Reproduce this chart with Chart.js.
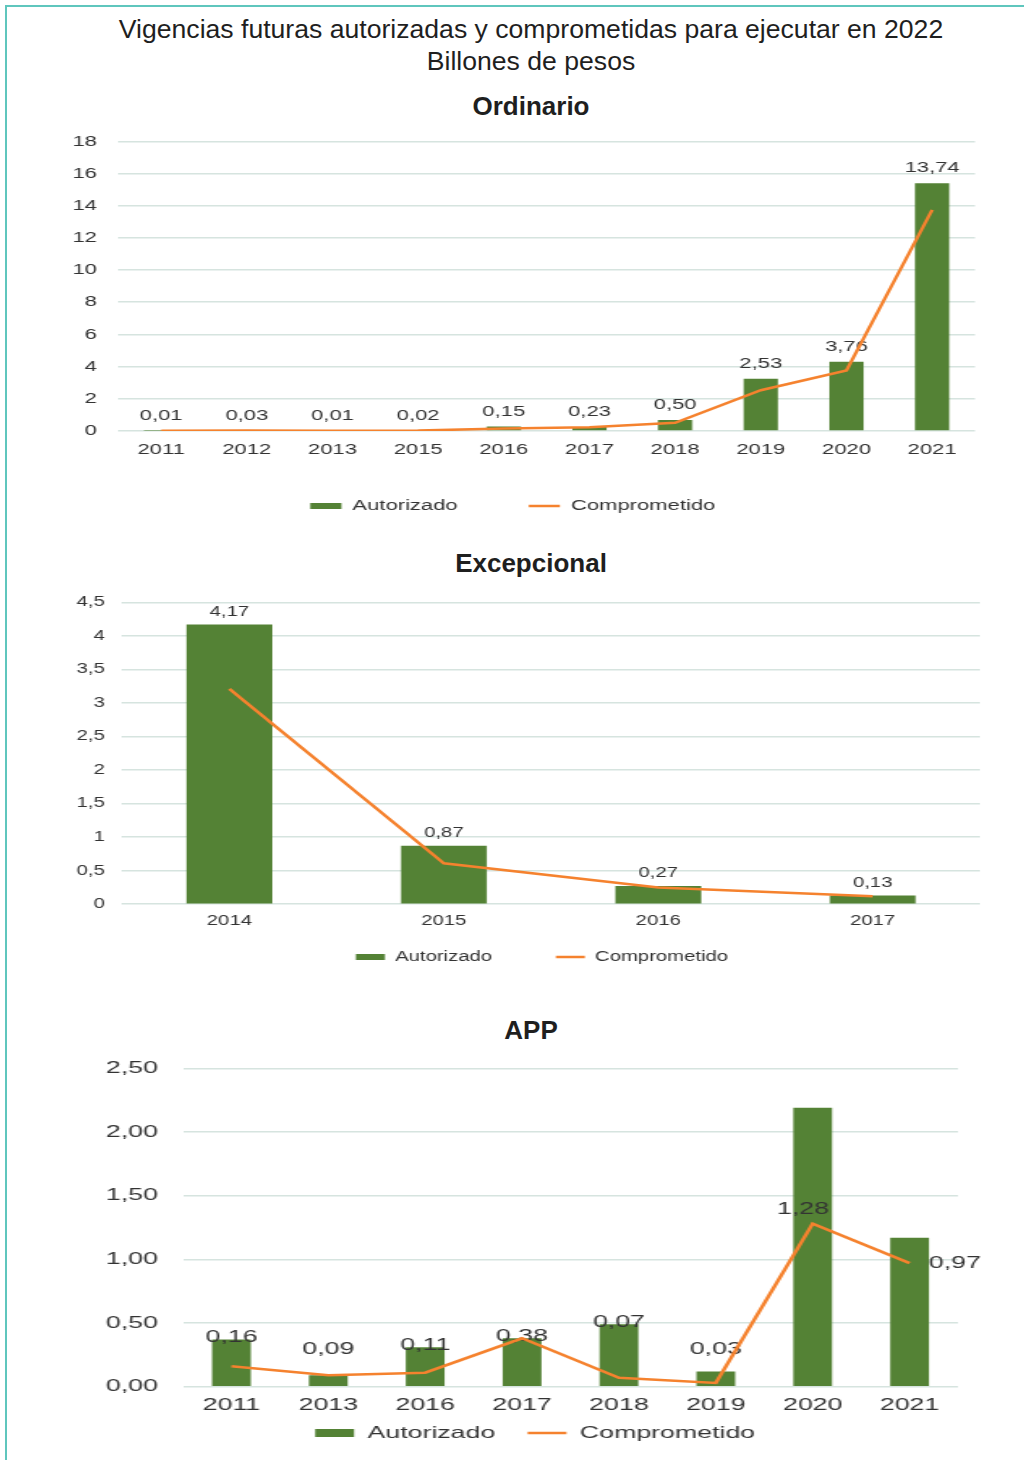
<!DOCTYPE html>
<html lang="es">
<head>
<meta charset="utf-8">
<title>Vigencias futuras autorizadas y comprometidas</title>
<script src="https://cdn.jsdelivr.net/npm/chart.js@4.4.1/dist/chart.umd.min.js"></script>
<style>
  html, body { margin: 0; padding: 0; width: 1024px; height: 1460px; overflow: hidden; background: #fff; }
  body { position: relative; font-family: "Liberation Sans", Arial, sans-serif; color: #1f1f1f; }
  #marco { position: absolute; left: 5px; top: 5px; width: 1040px; height: 1480px;
           border-left: 2px solid #5fc6bd; border-top: 2px solid #5fc6bd; }
  .titulo { position: absolute; left: 0; width: 1062px; text-align: center; }
  #principal { top: 13px; font-size: 26.6px; line-height: 32px; }
  .sub { font-size: 26px; line-height: 30px; font-weight: bold; }
  .caja { position: absolute; left: 20px; transform-origin: 0 0; }
</style>
</head>
<body>
<div id="marco"></div>
<div class="titulo" id="principal">Vigencias futuras autorizadas y comprometidas para ejecutar en 2022<br>Billones de pesos</div>
<div class="titulo sub" style="top:91px">Ordinario</div>
<div class="titulo sub" style="top:548px">Excepcional</div>
<div class="titulo sub" style="top:1015px">APP</div>

<div class="caja" style="top:117px; width:690px; height:428px; transform:scaleX(1.42)"><canvas id="graficoOrdinario"></canvas></div>
<div class="caja" style="top:582px; width:690px; height:425px; transform:scaleX(1.45)"><canvas id="graficoExcepcional"></canvas></div>
<div class="caja" style="top:1043px; width:600px; height:428px; transform:scaleX(1.62)"><canvas id="graficoApp"></canvas></div>

<script>
// Ordinario
const aniosOrdinario = ["2011", "2012", "2013", "2015", "2016", "2017", "2018", "2019", "2020", "2021"];
const autorizadoOrdinario = [0.01, 0.03, 0.01, 0.02, 0.27, 0.25, 0.68, 3.24, 4.3, 15.4];
const comprometidoOrdinario = [0.01, 0.03, 0.01, 0.02, 0.15, 0.23, 0.5, 2.53, 3.76, 13.74];

// Excepcional
const aniosExcepcional = ["2014", "2015", "2016", "2017"];
const autorizadoExcepcional = [4.17, 0.87, 0.27, 0.13];
const comprometidoExcepcional = [3.21, 0.61, 0.25, 0.12];

// APP
const aniosApp = ["2011", "2013", "2016", "2017", "2018", "2019", "2020", "2021"];
const autorizadoApp = [0.37, 0.09, 0.31, 0.38, 0.49, 0.12, 2.19, 1.17];
const comprometidoApp = [0.16, 0.09, 0.11, 0.38, 0.07, 0.03, 1.28, 0.97];
const posEtiquetasApp = ["barra", "barra", "barra", "barra", "barra", "barra", "linea", "derecha"];

const VERDE = "#548235";
const NARANJA = "#f5822e";
const GRILLA = "#d6e4df";
const TEXTO = "#333333";

Chart.defaults.font.family = "'Liberation Sans', Arial, sans-serif";
Chart.defaults.color = TEXTO;

const coma = (v, dec) => v.toFixed(dec).replace(".", ",");

// etiquetas de valor, se dibujan después de las barras y antes de la línea
function crearEtiquetas(textos, tam, ubicar) {
  return {
    id: "etiquetas",
    afterDatasetDraw(chart, args) {
      if (args.index !== 0) return;
      const ctx = chart.ctx;
      const barras = chart.getDatasetMeta(0).data;
      const puntos = chart.getDatasetMeta(1).data;
      const cero = chart.scales.y.getPixelForValue(0);
      ctx.save();
      ctx.font = tam + "px 'Liberation Sans', Arial, sans-serif";
      ctx.fillStyle = TEXTO;
      ctx.textBaseline = "middle";
      textos.forEach((t, i) => {
        const r = ubicar(barras[i], puntos[i], cero, i);
        ctx.textAlign = r.align || "center";
        ctx.fillText(t, r.x, r.y);
      });
      ctx.restore();
    },
  };
}

// la leyenda queda donde la pone el layout; aquí solo se corre a su sitio
function moverLeyenda(cx, cy, tam) {
  return {
    id: "moverLeyenda",
    afterLayout(chart) {
      const lg = chart.legend;
      const pad = lg.options.labels.padding;
      const dy = cy - (lg.top + pad + tam / 2);
      const dx = cx - (lg.left + lg.right) / 2;
      lg.top += dy;
      lg.bottom += dy;
      lg.left += dx;
      lg.right += dx;
    },
  };
}

function crearGrafico(id, anios, autorizado, comprometido, cfg) {
  const ctx = document.getElementById(id).getContext("2d");
  return new Chart(ctx, {
    data: {
      labels: anios,
      datasets: [
        {
          type: "bar",
          label: "Autorizado",
          data: autorizado,
          backgroundColor: VERDE,
          borderWidth: 0,
          categoryPercentage: 0.8,
          barPercentage: 0.5,
          pointStyle: "rect",
          order: 1,
        },
        {
          type: "line",
          label: "Comprometido",
          data: comprometido,
          borderColor: NARANJA,
          backgroundColor: NARANJA,
          borderWidth: 2.5,
          pointRadius: 0,
          tension: 0,
          pointStyle: "line",
          order: 0,
        },
      ],
    },
    options: {
      responsive: true,
      maintainAspectRatio: false,
      animation: false,
      layout: { padding: cfg.padding },
      plugins: {
        tooltip: { enabled: false },
        legend: {
          position: "bottom",
          labels: {
            usePointStyle: true,
            pointStyleWidth: cfg.cajaAncho,
            boxHeight: cfg.cajaAlto,
            padding: cfg.sepLeyenda,
            font: { size: cfg.fuente },
            color: TEXTO,
            sort: (a, b) => a.datasetIndex - b.datasetIndex,
          },
        },
      },
      scales: {
        x: {
          grid: { display: false, drawTicks: false },
          border: { display: false },
          ticks: { padding: cfg.padX, font: { size: cfg.fuente } },
        },
        y: {
          min: 0,
          max: cfg.max,
          border: { display: false },
          grid: { color: GRILLA, lineWidth: 1.5, drawTicks: false },
          ticks: { stepSize: cfg.paso, padding: cfg.padY, font: { size: cfg.fuente }, callback: cfg.formato },
        },
      },
    },
    plugins: [cfg.etiquetas, moverLeyenda(cfg.leyendaX, cfg.leyendaY, cfg.fuente)],
  });
}

crearGrafico("graficoOrdinario", aniosOrdinario, autorizadoOrdinario, comprometidoOrdinario, {
  padding: { top: 0, left: 22, right: 17.5, bottom: 0 },
  max: 18, paso: 2, formato: (v) => String(v),
  fuente: 15.5, padX: 10, padY: 15,
  cajaAncho: 22, cajaAlto: 6, sepLeyenda: 50,
  leyendaX: 347, leyendaY: 389,
  etiquetas: crearEtiquetas(comprometidoOrdinario.map((v) => coma(v, 2)), 15.5,
    (b) => ({ x: b.x, y: b.y - 15 })),
});

crearGrafico("graficoExcepcional", aniosExcepcional, autorizadoExcepcional, comprometidoExcepcional, {
  padding: { top: 0, left: 27, right: 28, bottom: 0 },
  max: 4.5, paso: 0.5, formato: (v) => String(v).replace(".", ","),
  fuente: 14, padX: 9, padY: 12,
  cajaAncho: 20, cajaAlto: 6, sepLeyenda: 44,
  leyendaX: 360, leyendaY: 375,
  etiquetas: crearEtiquetas(autorizadoExcepcional.map((v) => coma(v, 2)), 14,
    (b) => ({ x: b.x, y: b.y - 12.5 })),
});

crearGrafico("graficoApp", aniosApp, autorizadoApp, comprometidoApp, {
  padding: { top: 0, left: 37.7, right: 21, bottom: 0 },
  max: 2.5, paso: 0.5, formato: (v) => coma(v, 2),
  fuente: 16.5, padX: 9, padY: 15.4,
  cajaAncho: 24, cajaAlto: 8, sepLeyenda: 20,
  leyendaX: 318, leyendaY: 390,
  etiquetas: crearEtiquetas(comprometidoApp.map((v) => coma(v, 2)), 16.5, (b, p, cero, i) => {
    const pos = posEtiquetasApp[i];
    if (pos === "linea") return { x: p.x - 6, y: p.y - 14 };
    if (pos === "derecha") return { x: p.x + 12, y: p.y, align: "left" };
    return { x: b.x, y: Math.min(b.y - 2, cero - 37) };
  }),
});
</script>
</body>
</html>
